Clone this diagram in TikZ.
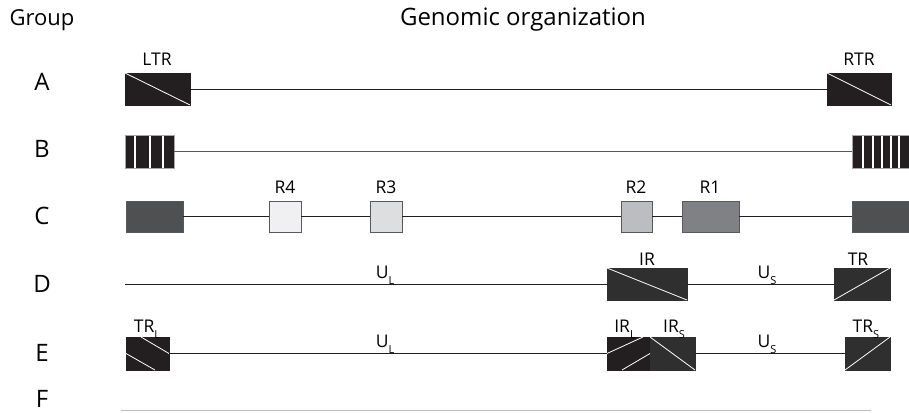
\documentclass[tikz,border=0pt]{standalone}
\usepackage{fontspec}
\setmainfont{Open Sans}
\usetikzlibrary{calc}

\definecolor{ink}{HTML}{231F20}
\definecolor{boxdark}{HTML}{2F2F30}
\definecolor{cend}{HTML}{4F5052}
\definecolor{rfour}{HTML}{F0F0F2}
\definecolor{rthree}{HTML}{DDDEE0}
\definecolor{rtwo}{HTML}{BCBDC0}
\definecolor{rone}{HTML}{808184}
\definecolor{edgegrey}{HTML}{58595B}
\definecolor{fline}{HTML}{BCBDC0}

\newcommand{\lowsub}[1]{\raisebox{-0.65ex}{\fontsize{11}{11}\selectfont #1}}

\begin{document}
\begin{tikzpicture}[x=1pt,y=-1pt,
  segment/.style={rectangle,inner sep=0pt,outer sep=0pt,draw=ink,fill=ink,line width=0.6pt},
  rbox/.style={rectangle,inner sep=0pt,outer sep=0pt,draw=edgegrey,line width=0.8pt,minimum height=31pt},
  stripebox/.style={rectangle,inner sep=0pt,outer sep=0pt,draw=gray!70,fill=ink,line width=0.6pt,minimum height=33pt},
  gap/.style={white,line width=2pt},
  slash/.style={white,line width=0.8pt},
  link/.style={ink,line width=0.8pt},
  headlabel/.style={font=\fontsize{22}{22}\selectfont,anchor=base,inner sep=0pt},
  grouplabel/.style={font=\fontsize{24}{24}\selectfont,anchor=base,inner sep=0pt},
  seglabel/.style={font=\fontsize{17.5}{17.5}\selectfont,anchor=base,inner sep=0pt}]
\useasboundingbox (0,0) rectangle (909,412);

% headings
\node[headlabel] (hgroup) at (42,26) {Group};
\node[headlabel,font=\fontsize{24}{24}\selectfont] (hgenome) at (523,26) {Genomic organization};

% row letters
\node[grouplabel] (la) at (42,90) {A};
\node[grouplabel] (lb) at (42,157) {B};
\node[grouplabel] (lc) at (42,224) {C};
\node[grouplabel] (ld) at (42,292) {D};
\node[grouplabel] (le) at (42,361) {E};
\node[grouplabel] (lf) at (42,407) {F};

% row A: terminal repeats
\node[segment,minimum width=65pt,minimum height=32pt] (ltr) at (157.5,89) {};
\node[segment,minimum width=64pt,minimum height=32pt] (rtr) at (859,89) {};
\draw[link] (ltr.east) -- (rtr.west);
\draw[slash] (ltr.north west) -- (ltr.south east);
\draw[slash] (rtr.north west) -- (rtr.south east);
\node[seglabel] (tltr) at (157,65) {LTR};
\node[seglabel] (trtr) at (859,65) {RTR};

% row B: striped repeat blocks
\node[stripebox,minimum width=49pt] (bl) at (149.5,151.5) {};
\node[stripebox,minimum width=58pt] (br) at (881,151.5) {};
\draw[edgegrey,line width=1.4pt] (bl.east) -- (br.west);
\foreach \gx in {134.5,149.5,163} \draw[gap] (\gx,135.5) -- (\gx,167.5);
\foreach \gx in {863,873,882,891,899} \draw[gap] (\gx,135.5) -- (\gx,167.5);

% row C: repeat regions
\node[rbox,fill=cend,minimum width=57pt] (cl) at (154.5,216.5) {};
\node[rbox,fill=rfour,minimum width=32pt] (r4) at (285,216.5) {};
\node[rbox,fill=rthree,minimum width=32pt] (r3) at (386,216.5) {};
\node[rbox,fill=rtwo,minimum width=31pt] (r2) at (636.5,216.5) {};
\node[rbox,fill=rone,minimum width=57pt] (r1) at (710.5,216.5) {};
\node[rbox,fill=cend,minimum width=58pt] (cr) at (881,216.5) {};
\draw[link] (cl.east) -- (r4.west);
\draw[link] (r4.east) -- (r3.west);
\draw[link] (r3.east) -- (r2.west);
\draw[link] (r2.east) -- (r1.west);
\draw[link] (r1.east) -- (cr.west);
\node[seglabel] (tr4) at (285,193) {R4};
\node[seglabel] (tr3) at (386,193) {R3};
\node[seglabel] (tr2) at (636,193) {R2};
\node[seglabel] (tr1) at (710,193) {R1};

% row D: unique and repeated segments
\coordinate (dstart) at (125,284);
\node[segment,draw=boxdark,fill=boxdark,minimum width=80pt,minimum height=32pt] (ir) at (647,284) {};
\node[segment,draw=boxdark,fill=boxdark,minimum width=56pt,minimum height=32pt] (tr) at (862,284) {};
\draw[link] (dstart) -- (ir.west);
\draw[link] (ir.east) -- (tr.west);
\draw[slash] (ir.north west) -- (ir.south east);
\draw[slash] (tr.south west) -- (tr.north east);
\node[seglabel] (tul) at (385,278) {U\lowsub{L}};
\node[seglabel] (tir) at (647,265) {IR};
\node[seglabel] (tus) at (767,278) {U\lowsub{S}};
\node[seglabel] (ttr) at (858,265) {TR};

% row E: long and short segments with their repeats
\node[segment,minimum width=43pt,minimum height=33pt] (trl) at (147.5,353.5) {};
\node[segment,minimum width=43pt,minimum height=33pt] (irl) at (628.5,353.5) {};
\node[segment,draw=boxdark,fill=boxdark,minimum width=45pt,minimum height=33pt] (irs) at (672.5,353.5) {};
\node[segment,draw=boxdark,fill=boxdark,minimum width=45pt,minimum height=33pt] (trs) at (867.5,353.5) {};
\draw[link] (trl.east) -- (irl.west);
\draw[link] (irs.east) -- (trs.west);
\draw[slash] ($(trl.north west)+(15,0)$) -- (trl.east);
\draw[slash] (trl.west) -- ($(trl.south west)+(29,0)$);
\draw[slash] (irl.west) -- ($(irl.north west)+(36,0)$);
\draw[slash] ($(irl.south west)+(15,0)$) -- (irl.east);
\draw[slash] (irs.north west) -- (irs.south east);
\draw[slash] (trs.south west) -- (trs.north east);
\node[seglabel] (ttrl) at (147,332) {TR\lowsub{L}};
\node[seglabel] (tul2) at (385,347) {U\lowsub{L}};
\node[seglabel] (tirl) at (625,332) {IR\lowsub{L}};
\node[seglabel] (tirs) at (674,332) {IR\lowsub{S}};
\node[seglabel] (tus2) at (767,347) {U\lowsub{S}};
\node[seglabel] (ttrs) at (866,332) {TR\lowsub{S}};

% row F: plain line
\coordinate (fstart) at (121,410.5);
\coordinate (fend) at (871,410.5);
\draw[fline,line width=1.4pt] (fstart) -- (fend);
\end{tikzpicture}
\end{document}
